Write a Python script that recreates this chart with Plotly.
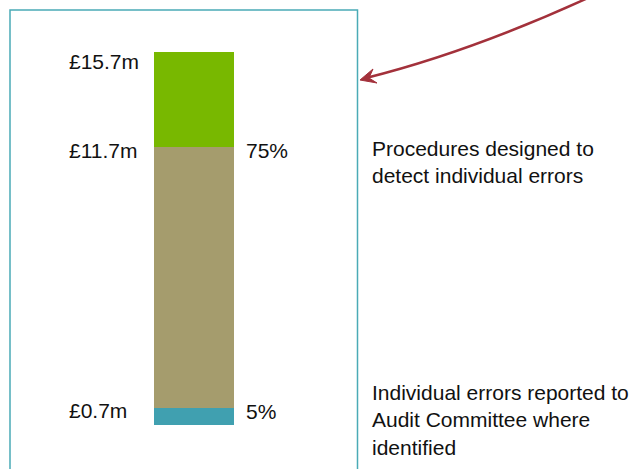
import plotly.graph_objects as go

W, H = 639, 469

# Data
segment_names = ["Individual errors reported", "Procedures designed", "Remainder"]
segment_values = [0.7, 11.0, 4.0]
segment_colors = ["#40a0b0", "#a59c6d", "#78b800"]
level_labels = ["£0.7m", "£11.7m", "£15.7m"]
level_values = [0.7, 11.7, 15.7]
pct_labels = ["5%", "75%"]
pct_values = [0.7, 11.7]
desc_labels = ["Individual errors reported to<br>Audit Committee where<br>identified",
               "Procedures designed to<br>detect individual errors"]
desc_values = [0.7, 11.7]

FONT = "Liberation Sans, Arial, sans-serif"
FS = 21

def px(x, y):
    return x / W, 1 - y / H

fig = go.Figure()
for name, val, col in zip(segment_names, segment_values, segment_colors):
    fig.add_trace(go.Bar(x=[0], y=[val], name=name, width=1,
                         marker=dict(color=col, line=dict(width=0))))

annotations = []
# left level labels
for lab, v, ys in zip(level_labels, level_values, [-2, -3, -9]):
    annotations.append(dict(x=-1.59, y=v, xref="x", yref="y", text=lab, showarrow=False,
                            xanchor="left", yanchor="middle", yshift=ys,
                            font=dict(family=FONT, size=FS, color="#111")))
for lab, v in zip(pct_labels, pct_values):
    annotations.append(dict(x=0.63, y=v, xref="x", yref="y", text=lab, showarrow=False,
                            xanchor="left", yanchor="middle", yshift=-3,
                            font=dict(family=FONT, size=FS, color="#111")))
for lab, v, ys in zip(desc_labels, desc_values, [29, 12]):
    annotations.append(dict(x=2.20, y=v, xref="x", yref="y", text=lab, showarrow=False,
                            xanchor="left", yanchor="top", yshift=ys, align="left",
                            font=dict(family=FONT, size=FS, color="#111")))

shapes = []
# border box
x0, y0 = px(10, 10)
x1, y1 = px(357.5, 480)
shapes.append(dict(type="rect", xref="paper", yref="paper", x0=x0, y0=y1, x1=x1, y1=y0,
                   line=dict(color="#4aabb6", width=1.5), fillcolor="rgba(0,0,0,0)"))
# curved arrow
def P(x, y):
    a, b = px(x, y)
    return f"{a:.5f},{b:.5f}"
shapes.append(dict(type="path", xref="paper", yref="paper",
                   path=f"M {P(590,-3)} Q {P(470,52)} {P(366,78)}",
                   line=dict(color="#a3313b", width=2.5)))
shapes.append(dict(type="path", xref="paper", yref="paper",
                   path=f"M {P(360,80)} L {P(373,69)} L {P(369,78)} L {P(377,83)} Z",
                   fillcolor="#a3313b", line=dict(color="#a3313b", width=1)))

fig.update_layout(
    barmode="stack", width=W, height=H,
    margin=dict(l=0, r=0, t=0, b=0),
    paper_bgcolor="white", plot_bgcolor="white",
    showlegend=False,
    xaxis=dict(range=[-2.425, 5.5625], visible=False, fixedrange=True),
    yaxis=dict(range=[-1.852, 17.889], visible=False, fixedrange=True),
    annotations=annotations, shapes=shapes,
)
fig.write_html("out.html")
